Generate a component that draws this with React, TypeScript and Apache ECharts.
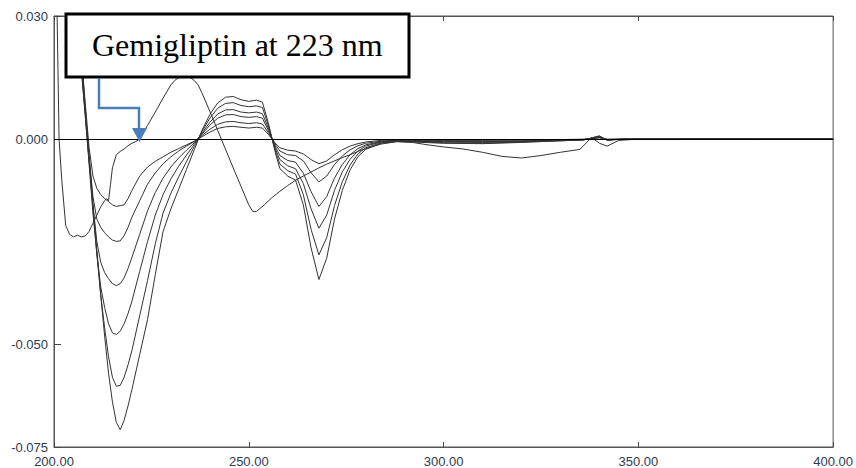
import React, { useEffect, useRef } from "react";
import * as echarts from "echarts";

// Wavelength grid (nm) for the concentration family
const wavelengthsFamily = [
  203, 204, 205, 206, 207, 208, 209, 210, 211, 212, 213, 214, 215, 216, 217, 218, 219, 220,
  222, 224, 226, 228, 230, 232, 234, 236, 238, 240, 242, 244, 246, 248, 250, 252,
  253.5, 255, 256, 257,
  258, 260, 262, 264, 266, 268, 270, 272, 274, 276, 278, 280,
  284, 288, 292, 300, 310, 320, 330, 336, 338, 340, 342, 346, 360, 380, 400,
];

const family1 = [
  0.085, 0.065, 0.045, 0.030, 0.018, 0.007, -0.004, -0.016, -0.027, -0.038, -0.048, -0.057, -0.064, -0.069, -0.0708, -0.0685, -0.065, -0.061,
  -0.0525, -0.044, -0.033, -0.0225, -0.017, -0.0122, -0.0074, -0.0026, 0.0022, 0.006, 0.0088, 0.0102, 0.0104, 0.0096, 0.0092, 0.0095,
  0.009, 0.004, 0.0, -0.004,
  -0.0072, -0.009, -0.01, -0.016, -0.0265, -0.0342, -0.029, -0.0195, -0.0125, -0.0075, -0.0043, -0.0025,
  -0.001, -0.0006, -0.0007, -0.001, -0.0011, -0.0008, -0.0004, -0.0002, 0.0003, 0.0008, -0.0003, 0.0, 0.0, 0.0, 0.0,
];
const family2 = [
  0.085, 0.064, 0.044, 0.029, 0.017, 0.006, -0.005, -0.017, -0.028, -0.038, -0.046, -0.053, -0.058, -0.0602, -0.06, -0.058, -0.055, -0.0515,
  -0.043, -0.0345, -0.0255, -0.018, -0.0132, -0.0092, -0.0055, -0.0018, 0.0019, 0.0051, 0.0075, 0.0087, 0.0089, 0.0082, 0.0079, 0.0081,
  0.0077, 0.0034, 0.0, -0.0034,
  -0.0061, -0.0077, -0.0085, -0.0135, -0.022, -0.0282, -0.024, -0.0162, -0.0104, -0.0063, -0.0036, -0.0021,
  -0.0009, -0.0005, -0.0006, -0.0009, -0.001, -0.0007, -0.0004, -0.0002, 0.0003, 0.0007, -0.0002, 0.0, 0.0, 0.0, 0.0,
];
const family3 = [
  0.086, 0.066, 0.046, 0.030, 0.018, 0.006, -0.006, -0.018, -0.028, -0.036, -0.041, -0.045, -0.0472, -0.0476, -0.0468, -0.045, -0.0425, -0.0395,
  -0.0322, -0.025, -0.0185, -0.0135, -0.0097, -0.0066, -0.0039, -0.0013, 0.0015, 0.0041, 0.0061, 0.0071, 0.0072, 0.0066, 0.0064, 0.0066,
  0.0062, 0.0027, 0.0, -0.0028,
  -0.005, -0.0065, -0.0072, -0.0108, -0.017, -0.0217, -0.0185, -0.0125, -0.008, -0.0049, -0.0029, -0.0017,
  -0.0007, -0.0004, -0.0005, -0.0007, -0.0008, -0.0006, -0.0003, -0.0001, 0.0002, 0.0006, -0.0002, 0.0, 0.0, 0.0, 0.0,
];
const family4 = [
  0.087, 0.067, 0.047, 0.031, 0.019, 0.007, -0.005, -0.016, -0.025, -0.03, -0.0325, -0.034, -0.0352, -0.0357, -0.0352, -0.0338, -0.0315, -0.0288,
  -0.0232, -0.0175, -0.013, -0.0095, -0.0068, -0.0046, -0.0027, -0.0009, 0.0012, 0.0034, 0.0051, 0.0059, 0.006, 0.0055, 0.0053, 0.0055,
  0.0051, 0.0022, 0.0, -0.0022,
  -0.004, -0.0052, -0.0056, -0.0083, -0.0128, -0.0164, -0.014, -0.0095, -0.0062, -0.0038, -0.0023, -0.0014,
  -0.0006, -0.0003, -0.0004, -0.0006, -0.0006, -0.0005, -0.0003, -0.0001, 0.0002, 0.0005, -0.0001, 0.0, 0.0, 0.0, 0.0,
];
const family5 = [
  0.088, 0.068, 0.048, 0.032, 0.020, 0.008, -0.004, -0.014, -0.0195, -0.0215, -0.0228, -0.0238, -0.0246, -0.0249, -0.0248, -0.0235, -0.0215, -0.019,
  -0.015, -0.011, -0.0082, -0.006, -0.0043, -0.0029, -0.0017, -0.0006, 0.0009, 0.0024, 0.0036, 0.0042, 0.0043, 0.004, 0.0038, 0.004,
  0.0037, 0.0016, 0.0, -0.0016,
  -0.0029, -0.0038, -0.004, -0.0053, -0.0082, -0.0104, -0.009, -0.0062, -0.0041, -0.0026, -0.0016, -0.001,
  -0.0005, -0.0002, -0.0003, -0.0004, -0.0005, -0.0004, -0.0002, -0.0001, 0.0002, 0.0004, -0.0001, 0.0, 0.0, 0.0, 0.0,
];
const family6 = [
  0.089, 0.069, 0.049, 0.033, 0.021, 0.009, -0.002, -0.009, -0.012, -0.0135, -0.0145, -0.0152, -0.016, -0.0164, -0.0162, -0.016, -0.0145, -0.0125,
  -0.009, -0.0068, -0.0054, -0.0043, -0.0032, -0.0023, -0.0014, -0.0005, 0.0006, 0.0017, 0.0026, 0.003, 0.0031, 0.0029, 0.0027, 0.0029,
  0.0027, 0.0012, 0.0, -0.0012,
  -0.0021, -0.0027, -0.0029, -0.0036, -0.005, -0.006, -0.0053, -0.0038, -0.0026, -0.0017, -0.0011, -0.0007,
  -0.0003, -0.0001, -0.0002, -0.0003, -0.0003, -0.0002, -0.0001, 0.0, 0.0001, 0.0003, 0.0, 0.0, 0.0, 0.0, 0.0,
];

// Second component (zero-crossing reference curve)
const wavelengthsOther = [
  200.3, 200.8, 201.3, 202, 203, 204, 205, 206, 207, 208, 209, 210, 211, 212, 213, 213.5, 214, 214.5, 215, 216,
  217, 218, 219, 220, 221, 222, 224, 226, 228, 230, 231, 232, 233, 234, 235, 236, 237, 238, 240, 242,
  244, 246, 248, 250, 251, 252, 254, 256, 258, 260, 262, 264, 266, 268, 270, 272, 274, 276, 278, 280,
  284, 288, 292, 296, 300, 305, 310, 315, 320, 325, 330, 335, 338, 340, 342, 345, 350, 360, 370, 380, 390, 400,
];
const otherValues = [
  0.045, 0.03, 0.0, -0.01, -0.021, -0.0232, -0.0238, -0.0234, -0.0238, -0.0236, -0.0225, -0.0205, -0.0185, -0.0165, -0.015, -0.0145, -0.015, -0.011, -0.007, -0.0038,
  -0.003, -0.0024, -0.0016, -0.001, -0.0006, 0.0, 0.0033, 0.0066, 0.01, 0.0132, 0.0143, 0.015, 0.0153, 0.0153, 0.015, 0.0143, 0.0132, 0.0112, 0.0068, 0.0022,
  -0.0024, -0.007, -0.0115, -0.016, -0.0176, -0.0176, -0.016, -0.0142, -0.0127, -0.0113, -0.01, -0.009, -0.008, -0.007, -0.0061, -0.0053, -0.0045, -0.0038, -0.003, -0.0023,
  -0.0012, -0.0006, -0.0008, -0.0014, -0.0019, -0.0024, -0.0032, -0.0042, -0.0046, -0.004, -0.0032, -0.0025, 0.0004, -0.001, -0.0017, -0.0003, 0.0, 0.0, 0.0001, 0.0, 0.0001, 0.0,
];

const xTicks = [200, 250, 300, 350, 400];
const yTickLabels = [0.03, 0.0, -0.05, -0.075];
const annotationText = "Gemigliptin at 223 nm";

const familyCurves = [family1, family2, family3, family4, family5, family6];

export default function App() {
  const ref = useRef<HTMLDivElement>(null);

  useEffect(() => {
    if (!ref.current) return;
    const chart = echarts.init(ref.current, undefined, { renderer: "svg" });
    const labelColor = "#2f3a52";
    const lineColor = "#333";

    const series: any[] = familyCurves.map((vals, i) => ({
      type: "line",
      name: "c" + (i + 1),
      data: wavelengthsFamily.map((w, j) => [w, vals[j]]),
      showSymbol: false,
      symbol: "none",
      clip: true,
      lineStyle: { color: lineColor, width: 1 },
      z: 3,
    }));
    series.push({
      type: "line",
      name: "other",
      data: wavelengthsOther.map((w, j) => [w, otherValues[j]]),
      showSymbol: false,
      symbol: "none",
      clip: true,
      lineStyle: { color: lineColor, width: 1 },
      z: 3,
      markLine: {
        silent: true,
        symbol: "none",
        label: { show: false },
        lineStyle: { color: "#000", width: 1, type: "solid" },
        data: [{ yAxis: 0 }],
      },
    });

    chart.setOption({
      animation: false,
      backgroundColor: "#fff",
      grid: {
        left: 54,
        right: 18,
        top: 16,
        bottom: 19,
        show: true,
        borderColor: "#555",
        borderWidth: 1,
        backgroundColor: "transparent",
      },
      xAxis: [
        {
          type: "value",
          min: xTicks[0],
          max: xTicks[xTicks.length - 1],
          interval: 50,
          axisLine: { show: true, onZero: false, lineStyle: { color: "#555" } },
          axisTick: { show: true, inside: true, length: 5, lineStyle: { color: "#444" } },
          axisLabel: {
            color: labelColor,
            fontSize: 13,
            fontFamily: "Liberation Sans, Arial, sans-serif",
            margin: 8,
            formatter: (v: number) => v.toFixed(2),
          },
          splitLine: { show: false },
        },
        {
          type: "value",
          position: "top",
          min: xTicks[0],
          max: xTicks[xTicks.length - 1],
          interval: 50,
          axisLine: { show: true, onZero: false, lineStyle: { color: "#555" } },
          axisTick: { show: true, inside: true, length: 5, lineStyle: { color: "#444" } },
          axisLabel: { show: false },
          splitLine: { show: false },
        },
      ],
      yAxis: {
        type: "value",
        min: -0.075,
        max: 0.03,
        axisLine: { show: true, onZero: false, lineStyle: { color: "#555" } },
        axisTick: {
          show: true,
          inside: true,
          length: 7,
          customValues: yTickLabels,
          lineStyle: { color: "#444" },
        },
        axisLabel: {
          color: labelColor,
          fontSize: 13,
          fontFamily: "Liberation Sans, Arial, sans-serif",
          margin: 6,
          customValues: yTickLabels,
          formatter: (v: number) => (Math.abs(v) < 1e-9 ? "0.000" : v.toFixed(3)),
        },
        splitLine: { show: false },
      },
      series,
      graphic: [
        {
          type: "rect",
          z: 100,
          shape: { x: 66, y: 14, width: 343, height: 63 },
          style: { fill: "#fff", stroke: "#000", lineWidth: 3 },
        },
        {
          type: "text",
          z: 101,
          x: 92,
          y: 45,
          style: {
            text: annotationText,
            fontSize: 32,
            fontFamily: "Liberation Serif, Times New Roman, serif",
            fill: "#000",
            verticalAlign: "middle",
          },
        },
        {
          type: "polyline",
          z: 100,
          shape: { points: [[99, 78], [99, 108], [139, 108], [139, 129]] },
          style: { stroke: "#4a7ebb", lineWidth: 2.5, fill: "none" },
        },
        {
          type: "polygon",
          z: 100,
          shape: { points: [[132, 128], [147, 128], [139.5, 142]] },
          style: { fill: "#4a7ebb" },
        },
      ],
    });

    return () => chart.dispose();
  }, []);

  return (
    <div
      ref={ref}
      style={{ position: "fixed", left: 0, top: 0, width: 856, height: 468, background: "#fff" }}
    />
  );
}
